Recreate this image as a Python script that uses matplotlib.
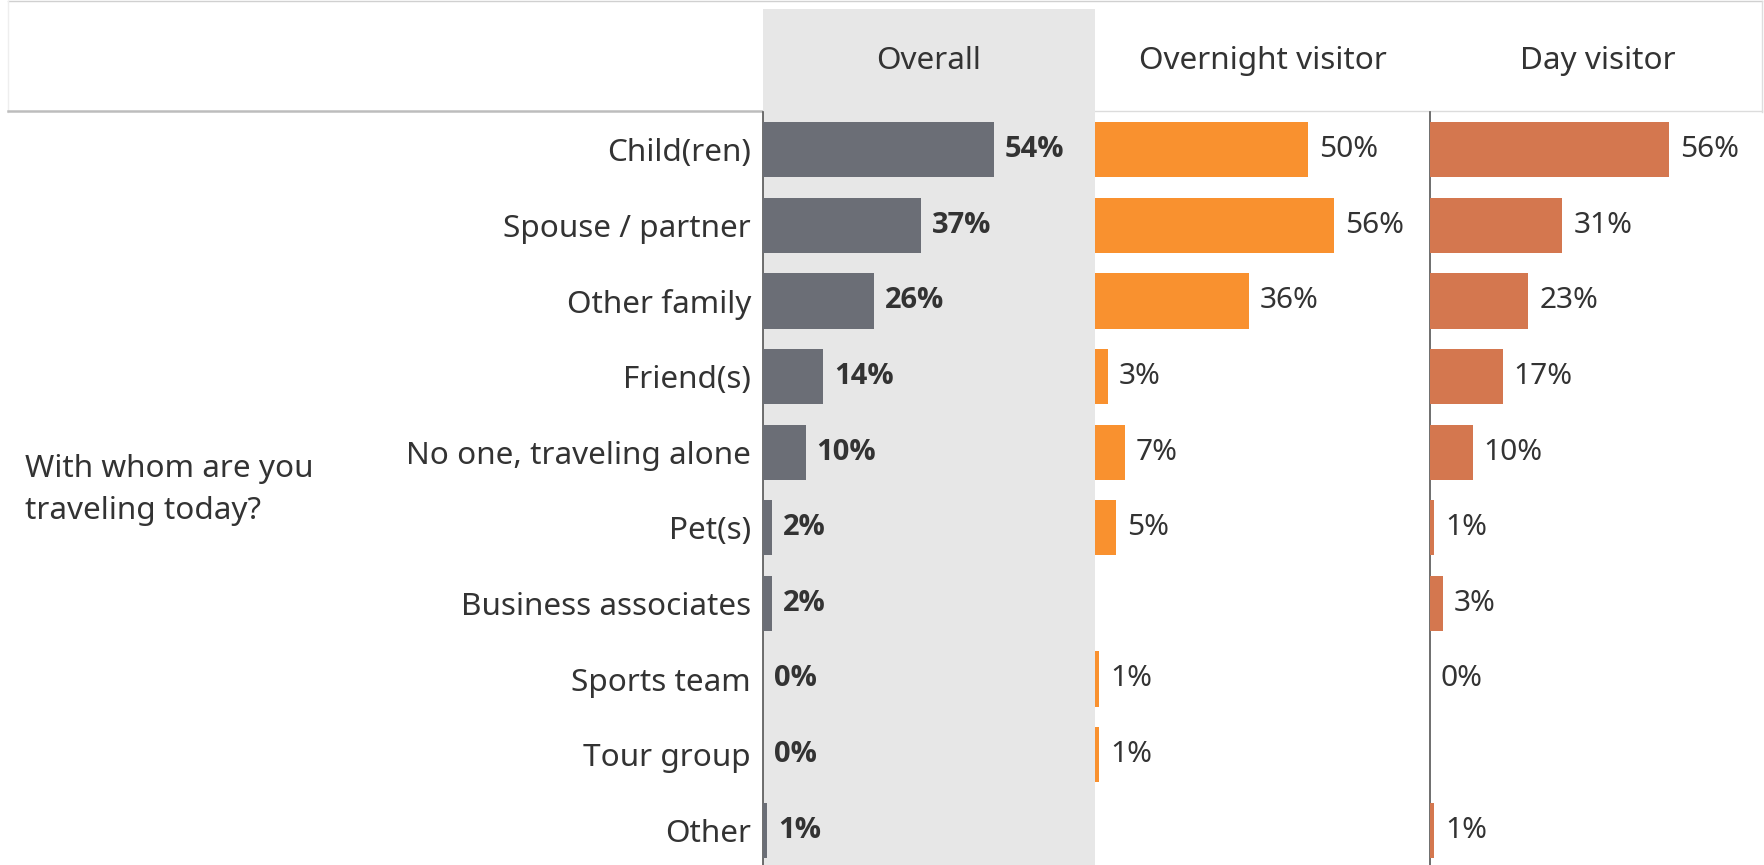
import matplotlib
matplotlib.use("Agg")
import matplotlib.pyplot as plt
import numpy as np
from matplotlib.patches import Rectangle
from matplotlib.lines import Line2D
from matplotlib import font_manager as fm

categories = ["Child(ren)", "Spouse / partner", "Other family", "Friend(s)",
              "No one, traveling alone", "Pet(s)", "Business associates",
              "Sports team", "Tour group", "Other"]
panels = ["Overall", "Overnight visitor", "Day visitor"]
overall = [54, 37, 26, 14, 10, 2, 2, 0, 0, 1]
overnight = [50, 56, 36, 3, 7, 5, None, 1, 1, None]
day = [56, 31, 23, 17, 10, 1, 3, 0, None, 1]
question = "With whom are you\ntraveling today?"

plt.rcParams['font.family'] = ['Noto Sans', 'DejaVu Sans']
FS = 22.7      # category / header / question text
FSV = 21.5     # value labels
TXT = '#333333'
colors = ['#6b6e76', '#f9912f', '#d4774f']

# find a family that has a real bold face
bold_family = 'DejaVu Sans'
for fam in ['Noto Sans', 'Open Sans', 'Roboto', 'Lato', 'Liberation Sans']:
    try:
        p = fm.findfont(fm.FontProperties(family=fam, weight='bold'), fallback_to_default=False)
        if 'bold' in p.lower():
            bold_family = fam
            break
    except Exception:
        pass

W, H = 1765, 865
fig = plt.figure(figsize=(W / 100, H / 100), dpi=100)
fig.patch.set_facecolor('white')

def fx(px):
    return px / W

def fy(py):
    return 1 - py / H

# header box
fig.add_artist(Line2D([fx(8), fx(1762)], [fy(0.8), fy(0.8)], transform=fig.transFigure,
                      color='#d0d0d0', lw=1.0, zorder=1))
fig.add_artist(Line2D([fx(1762), fx(1762)], [fy(0.8), fy(112)], transform=fig.transFigure,
                      color='#dddddd', lw=1.0, zorder=1))
fig.add_artist(Line2D([fx(8), fx(8)], [fy(0.8), fy(112)], transform=fig.transFigure,
                      color='#eeeeee', lw=1.0, zorder=1))
fig.add_artist(Line2D([fx(8), fx(763)], [fy(111), fy(111)], transform=fig.transFigure,
                      color='#bdbdbd', lw=1.8, zorder=1))
fig.add_artist(Line2D([fx(1095), fx(1762)], [fy(111), fy(111)], transform=fig.transFigure,
                      color='#dcdcdc', lw=1.0, zorder=1))

# Overall gray column
fig.add_artist(Rectangle((fx(763), 0), (1095 - 763) / W, (865 - 9) / H,
                         transform=fig.transFigure, facecolor='#e7e7e7',
                         edgecolor='none', zorder=2))

px_per_pct = 4.27
edges = [763, 1095, 1430, 1765]
top_px, bot_px = 112, 868
series = [overall, overnight, day]
y = np.arange(len(categories))

for k, (vals, col) in enumerate(zip(series, colors)):
    x0, x1 = edges[k], edges[k + 1]
    ax = fig.add_axes([fx(x0), fy(bot_px), (x1 - x0) / W, (bot_px - top_px) / H], zorder=3)
    ax.set_facecolor('none')
    ax.set_xlim(0, (x1 - x0) / px_per_pct)
    ax.set_ylim(len(categories) - 0.5, -0.5)
    for s in ax.spines.values():
        s.set_visible(False)
    ax.set_xticks([])
    if k == 0:
        ax.set_yticks(y)
        ax.set_yticklabels(categories, fontsize=FS, color=TXT)
        ax.tick_params(axis='y', length=0, pad=8.6)
    else:
        ax.set_yticks([])
    if k != 1:
        ax.spines['left'].set_visible(True)
        ax.spines['left'].set_color('#555555')
        ax.spines['left'].set_linewidth(1.2)
    for i, v in enumerate(vals):
        if v is None:
            continue
        if v > 0:
            ax.barh(i, v, height=0.73, color=col, edgecolor='none', zorder=3)
        if k == 0:
            ax.annotate(f"{v}%", (v, i), xytext=(7.9, 0), textcoords='offset points',
                        va='center', ha='left', fontsize=FSV - 0.5, color=TXT,
                        family=[bold_family, 'DejaVu Sans'], fontweight='bold', zorder=4)
        else:
            ax.annotate(f"{v}%", (v, i), xytext=(7.9, 0), textcoords='offset points',
                        va='center', ha='left', fontsize=FSV, color=TXT, zorder=4)
    fig.text(fx((x0 + x1) / 2), fy(61), panels[k], ha='center', va='center',
             fontsize=FS, color=TXT, zorder=5)

row_px = top_px + (bot_px - top_px) / len(categories) * 5
fig.text(fx(25), fy(row_px), question, ha='left', va='center', fontsize=FS,
         color=TXT, linespacing=1.55)

fig.savefig('out.png', dpi=100, facecolor='white')
